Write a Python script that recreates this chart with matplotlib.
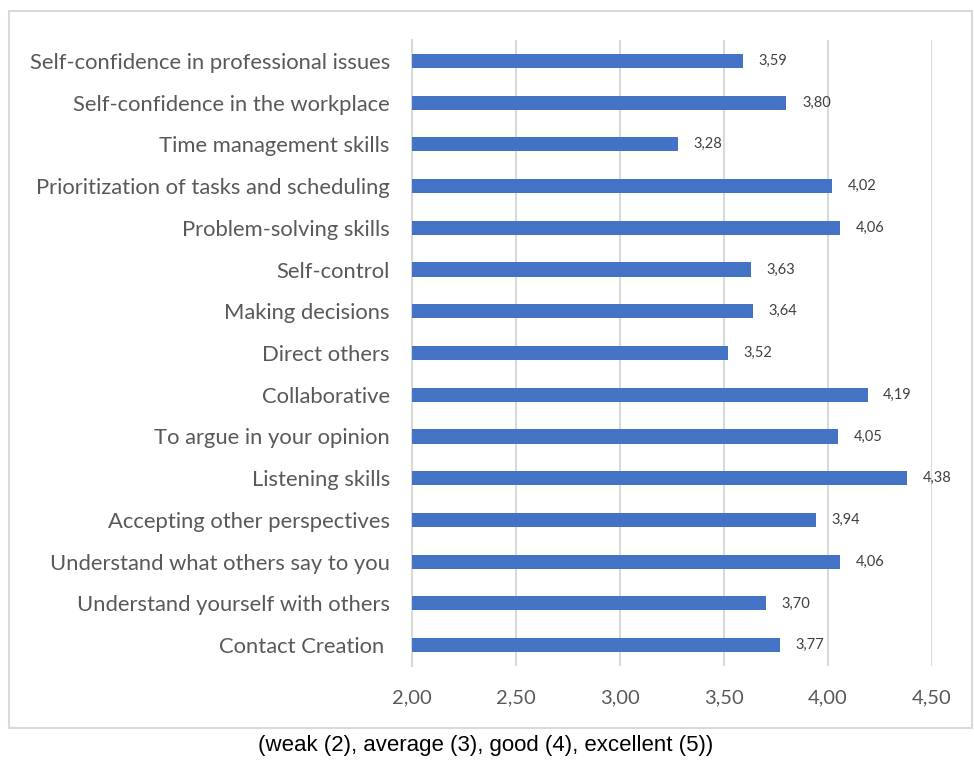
import matplotlib.pyplot as plt
from matplotlib.patches import Rectangle

skills = ["Self-confidence in professional issues",
          "Self-confidence in the workplace",
          "Time management skills",
          "Prioritization of tasks and scheduling",
          "Problem-solving skills",
          "Self-control",
          "Making decisions",
          "Direct others",
          "Collaborative",
          "To argue in your opinion",
          "Listening skills",
          "Accepting other perspectives",
          "Understand what others say to you",
          "Understand yourself with others",
          "Contact Creation "]
scores = [3.59, 3.80, 3.28, 4.02, 4.06, 3.63, 3.64, 3.52,
          4.19, 4.05, 4.38, 3.94, 4.06, 3.70, 3.77]
ticks = [2.0, 2.5, 3.0, 3.5, 4.0, 4.5]

def comma(v):
    return f"{v:.2f}".replace(".", ",")

plt.rcParams['font.family'] = ['Lato', 'DejaVu Sans']

fig = plt.figure(figsize=(9.74, 7.6), dpi=100)
ax = fig.add_axes([412/974, 1-666/760, 520/974, 626/760])

y = list(range(len(skills)))[::-1]
ax.barh(y, scores, height=0.34, left=0, color='#4472C4', zorder=3)

for yi, s in zip(y, scores):
    ax.text(s + 0.075, yi, comma(s), va='center', ha='left',
            fontsize=10.5, color='#404040')

ax.set_xlim(2.0, 4.5)
ax.set_ylim(-0.5, len(skills) - 0.5)
ax.set_xticks(ticks)
ax.set_xticklabels([comma(t) for t in ticks], fontsize=14.5, color='#595959')
ax.set_yticks(y)
ax.set_yticklabels(skills, fontsize=15.8, color='#595959')
ax.tick_params(axis='both', length=0)
ax.tick_params(axis='x', pad=17)
ax.tick_params(axis='y', pad=16)

ax.grid(axis='x', color='#d9d9d9', linewidth=1.5, zorder=0)
for sp in ['top', 'right', 'bottom']:
    ax.spines[sp].set_visible(False)
ax.spines['left'].set_color('#d9d9d9')
ax.spines['left'].set_linewidth(1.5)

# frame around the chart area
fig.patches.append(Rectangle((9/974, 1-728/760), 963/974, 717/760,
                             transform=fig.transFigure, fill=False,
                             edgecolor='#d9d9d9', linewidth=1.5))

fig.text(486/974, 1-745/760, "(weak (2), average (3), good (4), excellent (5))",
         ha='center', va='center', fontsize=16, family='Liberation Sans',
         color='black')

fig.savefig("out.png", dpi=100)
